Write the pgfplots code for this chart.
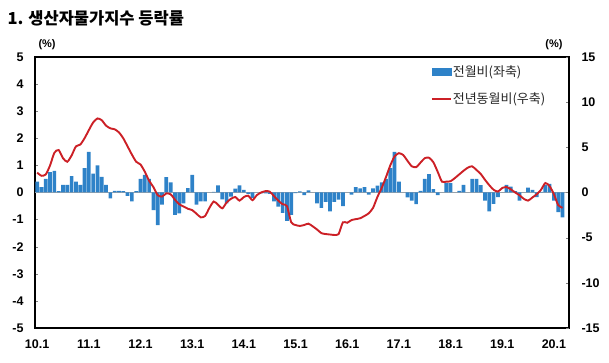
\documentclass[border=0pt]{standalone}
\usepackage{pgfplots}
\pgfplotsset{compat=1.18}
\usepackage{pgfplotstable}
\usepackage{fontspec}
\setmainfont{Liberation Sans}
\newfontfamily\kr{Noto Sans CJK KR}
\definecolor{barblue}{RGB}{46,130,200}
\definecolor{linered}{RGB}{204,32,38}
\pgfplotstableread{
m mom yoy
0 0.40 2.2
1 0.20 1.85
2 0.50 2.0
3 0.75 3.0
4 0.80 4.4
5 0.05 4.7
6 0.28 3.8
7 0.28 3.4
8 0.60 4.1
9 0.40 5.1
10 0.28 5.3
11 0.90 6.0
12 1.50 6.9
13 0.70 7.75
14 1.00 8.2
15 0.58 8.0
16 0.28 7.4
17 -0.22 7.1
18 0.06 7.0
19 0.06 6.65
20 0.05 6.0
21 -0.12 5.1
22 -0.33 4.2
23 0.05 3.4
24 0.50 3.1
25 0.65 2.3
26 0.50 1.3
27 -0.65 0.6
28 -1.20 -0.3
29 -0.45 -0.45
30 0.57 -0.1
31 0.37 -0.2
32 -0.83 -0.8
33 -0.77 -1.3
34 -0.40 -1.55
35 0.16 -1.8
36 0.65 -1.95
37 -0.45 -2.35
38 -0.33 -2.75
39 -0.33 -2.6
40 0.00 -1.7
41 0.02 -1.0
42 0.26 -1.35
43 -0.25 -1.75
44 -0.40 -1.1
45 -0.15 -0.7
46 0.14 -0.5
47 0.26 -0.9
48 0.10 -0.5
49 -0.05 -0.35
50 -0.20 -0.85
51 0.00 -0.3
52 -0.03 0.0
53 -0.03 0.15
54 -0.05 0.1
55 -0.33 -0.4
56 -0.52 -0.9
57 -0.75 -1.3
58 -1.05 -1.5
59 -0.83 -3.3
60 -0.02 -3.6
61 0.04 -3.7
62 -0.10 -3.6
63 0.08 -3.45
64 0.00 -3.75
65 -0.40 -4.1
66 -0.57 -4.5
67 -0.35 -4.6
68 -0.70 -4.65
69 -0.35 -4.7
70 -0.26 -4.6
71 -0.50 -3.3
72 0.00 -3.35
73 -0.08 -3.05
74 0.20 -2.95
75 0.15 -2.85
76 0.20 -2.6
77 -0.08 -2.3
78 0.15 -1.7
79 0.25 -0.5
80 0.37 0.5
81 0.50 1.7
82 0.90 3.0
83 1.50 4.0
84 0.40 4.35
85 0.00 4.15
86 -0.18 3.5
87 -0.30 2.9
88 -0.43 2.8
89 0.06 3.3
90 0.50 3.8
91 0.68 3.85
92 0.12 3.35
93 -0.10 2.3
94 0.00 1.2
95 0.35 1.2
96 0.35 1.25
97 0.00 1.6
98 0.06 2.0
99 0.28 2.4
100 0.00 2.75
101 0.50 2.9
102 0.50 2.5
103 0.27 2.05
104 -0.30 1.4
105 -0.70 0.8
106 -0.42 0.3
107 -0.17 0.1
108 0.00 0.5
109 0.28 0.6
110 0.22 0.35
111 0.05 0.0
112 -0.30 -0.3
113 0.00 -0.7
114 0.18 -0.9
115 0.10 -0.55
116 -0.17 -0.2
117 0.02 0.3
118 0.28 1.05
119 0.32 0.7
120 -0.30 -0.2
121 -0.72 -1.4
122 -0.92 -1.7
}\data
\begin{document}
\begin{tikzpicture}
\useasboundingbox (-35pt,-35pt) rectangle (574pt,328pt);
\begin{axis}[
  scale only axis, width=534pt, height=271pt,
  xmin=-0.5, xmax=123.5, ymin=-5, ymax=5,
  xtick={0,12,...,120},
  xticklabels={10.1,11.1,12.1,13.1,14.1,15.1,16.1,17.1,18.1,19.1,20.1},
  ytick={-5,-4,...,5},
  ytick pos=left, tick align=inside,
  major tick length=3pt,
  x tick style={draw=none},
  axis line style={line width=1.2pt, black},
  tick label style={font=\bfseries\fontsize{12.5}{14}\selectfont},
  /pgf/number format/assume math mode=true,
  xticklabel style={yshift=-8pt},
  yticklabel style={xshift=-8pt},
  extra y ticks={0}, extra y tick labels={},
  extra y tick style={grid=major, major grid style={draw=black!35, line width=0.8pt}, major tick length=0pt},
]
\addplot[ybar, bar width=3.7pt, fill=barblue, draw=none] table[x=m, y=mom]{\data};
\end{axis}
\begin{axis}[
  scale only axis, width=534pt, height=271pt,
  xmin=-0.5, xmax=123.5, ymin=-15, ymax=15,
  axis x line=none, axis y line*=right,
  ytick={-15,-10,...,15},
  tick align=inside, major tick length=3pt,
  axis line style={line width=1.2pt, black},
  tick label style={font=\bfseries\fontsize{12.5}{14}\selectfont},
  /pgf/number format/assume math mode=true,
  yticklabel style={xshift=9pt},
  legend style={at={(0.741,0.972)}, anchor=north west, draw=none, fill=none,
    font=\kr\fontsize{13}{15}\selectfont, text=black!85, row sep=13pt, inner sep=0pt,
    nodes={inner sep=1pt}},
  legend cell align=left,
]
\addlegendimage{legend image code/.code={\fill[barblue] (0pt,-3.5pt) rectangle (19pt,3.5pt);}}
\addlegendentry{전월비(좌축)}
\addplot[linered, line width=1.9pt, smooth, tension=0.4,
  legend image code/.code={\draw[linered, line width=1.9pt] (0pt,0pt) -- (19pt,0pt);}]
  table[x=m, y=yoy]{\data};
\addlegendentry{전년동월비(우축)}
\end{axis}
\node[anchor=west, font=\kr\bfseries\fontsize{16.5}{19}\selectfont] at (-31pt,310pt) {1. 생산자물가지수 등락률};
\node[anchor=west, font=\bfseries\fontsize{11}{13}\selectfont] at (0pt,283pt) {(\%)};
\node[anchor=east, font=\bfseries\fontsize{11}{13}\selectfont] at (531pt,283pt) {(\%)};
\end{tikzpicture}
\end{document}
